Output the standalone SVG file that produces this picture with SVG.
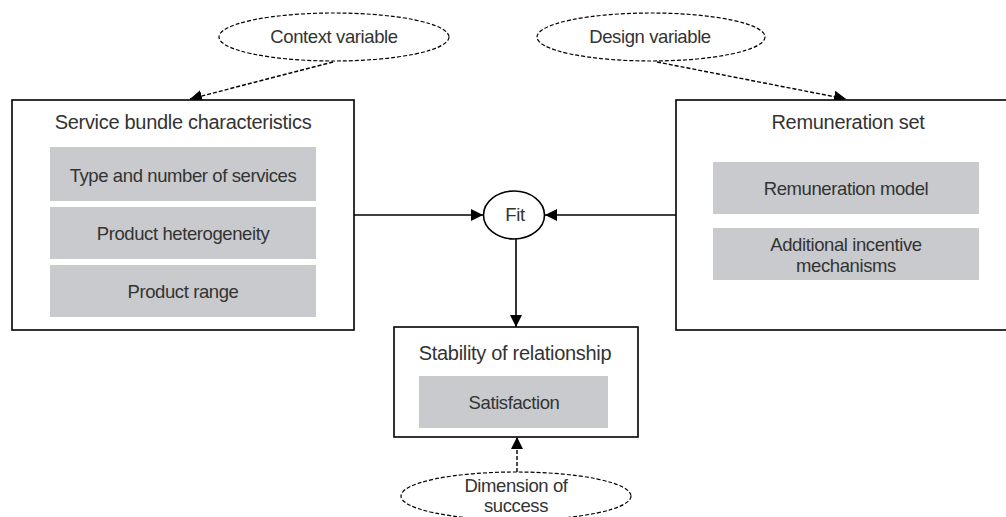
<svg xmlns="http://www.w3.org/2000/svg" width="1006" height="517" viewBox="0 0 1006 517">
  <style>
    text { font-family: "Liberation Sans", Arial, sans-serif; fill: #333; text-anchor: middle; }
    .title { font-size: 20px; letter-spacing: -0.3px; }
    .item { font-size: 18.5px; letter-spacing: -0.4px; }
    .box { fill: #fff; stroke: #000; stroke-width: 1.6; }
    .cell { fill: #c8cacd; }
    .var { fill: #fff; stroke: #000; stroke-width: 1.2; stroke-dasharray: 4 2; }
    .solid { fill: none; stroke: #000; stroke-width: 1.6; }
    .dashed { fill: none; stroke: #000; stroke-width: 1.4; stroke-dasharray: 4 2; }
  </style>
  <defs>
    <marker id="arrow" viewBox="0 0 12 12" refX="12" refY="6" markerWidth="12" markerHeight="12" markerUnits="userSpaceOnUse" orient="auto">
      <path d="M0,0 L12,6 L0,12 Z" fill="#000"/>
    </marker>
  </defs>

  <g id="connectors">
    <path class="dashed" d="M333,62 L190,99" marker-end="url(#arrow)"/>
    <path class="dashed" d="M657,62 L846,99" marker-end="url(#arrow)"/>
    <path class="solid" d="M354,215 L483,215" marker-end="url(#arrow)"/>
    <path class="solid" d="M676,215 L545,215" marker-end="url(#arrow)"/>
    <path class="solid" d="M516,239 L516,327" marker-end="url(#arrow)"/>
    <path class="dashed" d="M517,472 L517,437" marker-end="url(#arrow)"/>
  </g>

  <g id="context-variable">
    <ellipse class="var" cx="334" cy="37" rx="115" ry="24"/>
    <text class="item" x="334" y="43">Context variable</text>
  </g>

  <g id="design-variable">
    <ellipse class="var" cx="651" cy="37" rx="114" ry="24"/>
    <text class="item" x="650" y="43">Design variable</text>
  </g>

  <g id="service-bundle">
    <rect class="box" x="12" y="100" width="342" height="230"/>
    <text class="title" x="183" y="129">Service bundle characteristics</text>
    <rect class="cell" x="50" y="147" width="266" height="54"/>
    <text class="item" x="183" y="182">Type and number of services</text>
    <rect class="cell" x="50" y="207" width="266" height="52"/>
    <text class="item" x="183" y="240">Product heterogeneity</text>
    <rect class="cell" x="50" y="265" width="266" height="52"/>
    <text class="item" x="183" y="298">Product range</text>
  </g>

  <g id="fit">
    <ellipse class="box" cx="514" cy="215" rx="30.5" ry="24"/>
    <text class="item" x="515" y="221">Fit</text>
  </g>

  <g id="remuneration-set">
    <rect class="box" x="676" y="100" width="345" height="230"/>
    <text class="title" x="848" y="129">Remuneration set</text>
    <rect class="cell" x="713" y="162" width="266" height="52"/>
    <text class="item" x="846" y="195">Remuneration model</text>
    <rect class="cell" x="713" y="228" width="266" height="52"/>
    <text class="item" x="846" y="251">Additional incentive</text>
    <text class="item" x="846" y="272">mechanisms</text>
  </g>

  <g id="stability">
    <rect class="box" x="394" y="327" width="244" height="110"/>
    <text class="title" x="515" y="360">Stability of relationship</text>
    <rect class="cell" x="419" y="376" width="189" height="52"/>
    <text class="item" x="514" y="409">Satisfaction</text>
  </g>

  <g id="dimension-of-success">
    <ellipse class="var" cx="516" cy="496" rx="115" ry="24"/>
    <text class="item" x="516" y="492">Dimension of</text>
    <text class="item" x="516" y="512">success</text>
  </g>
</svg>
